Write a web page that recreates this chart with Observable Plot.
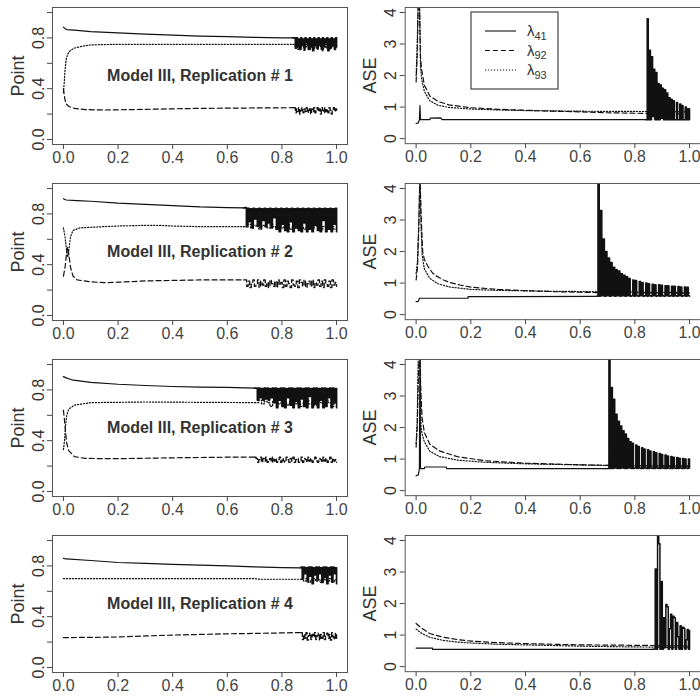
<!DOCTYPE html>
<html><head><meta charset="utf-8">
<script src="https://cdn.jsdelivr.net/npm/d3@7"></script>
<script src="https://cdn.jsdelivr.net/npm/@observablehq/plot@0.6"></script>
<style>
body{margin:0;background:#fff;}
#chart{position:relative;width:700px;height:698px;overflow:hidden;background:#fff;font-family:"Liberation Sans",Arial,sans-serif;}
.panel{position:absolute;}
</style></head><body><div id="chart"></div>
<script>
// ---------- axes ----------
const xTicks=[0,0.2,0.4,0.6,0.8,1.0];
const pointTicks=[0,0.2,0.4,0.6,0.8,1.0];
const pointTickLabels=[0,0.4,0.8];
const aseTicks=[0,1,2,3,4];
const replications=[1,2,3,4];
const legendNames=[["λ","41"],["λ","92"],["λ","93"]];

// ---------- Replication 1 ----------
const r1Range=[0.845,1.0];
const r1PSolid=[[0,0.885],[0.005,0.875],[0.012,0.866],[0.05,0.86],[0.1,0.85],[0.2,0.84],[0.3,0.83],[0.4,0.823],[0.5,0.815],[0.6,0.81],[0.7,0.805],[0.8,0.80],[0.84,0.80]];
const r1PSolidN=[0.80,0.72,0.80,0.74,0.79,0.71,0.80,0.75,0.79,0.72,0.80,0.76,0.79,0.71,0.80,0.73,0.79,0.70,0.80,0.74,0.79,0.72,0.80,0.75,0.79,0.71,0.80,0.73,0.79,0.76,0.80,0.70,0.79,0.72,0.80,0.74,0.79,0.71,0.80,0.73];
const r1PDotted=[[0,0.37],[0.003,0.45],[0.006,0.55],[0.01,0.63],[0.015,0.67],[0.025,0.70],[0.04,0.72],[0.07,0.735],[0.1,0.745],[0.2,0.75],[0.5,0.75],[0.84,0.75]];
const r1PDottedN=[0.75,0.73,0.75,0.71,0.74,0.75,0.72,0.75,0.74,0.70,0.75,0.73,0.75,0.74,0.71,0.75,0.73,0.75,0.72,0.74,0.75,0.71,0.74,0.75,0.73,0.75,0.70,0.74,0.75,0.72,0.75,0.74,0.71,0.75,0.73,0.74,0.75,0.72,0.74,0.73];
const r1PDashed=[[0,0.40],[0.003,0.35],[0.006,0.31],[0.01,0.28],[0.02,0.26],[0.04,0.245],[0.08,0.235],[0.15,0.232],[0.3,0.237],[0.5,0.245],[0.7,0.248],[0.84,0.25]];
const r1PDashedN=[0.25,0.21,0.24,0.22,0.25,0.20,0.23,0.25,0.21,0.24,0.22,0.25,0.21,0.23,0.25,0.20,0.24,0.22,0.25,0.21,0.23,0.25,0.22,0.24,0.20,0.25,0.23,0.21,0.25,0.22,0.24,0.21,0.25,0.23,0.20,0.24,0.25,0.22,0.24,0.23];
const r1ASolid=[[0,0.48],[0.008,0.5],[0.012,0.6],[0.014,1.05],[0.016,0.6],[0.05,0.6],[0.052,0.65],[0.09,0.66],[0.095,0.6],[0.84,0.6]];
const r1ASolidN=[3.8,0.6,2.8,0.6,2.6,0.7,2.2,0.6,2.1,0.6,1.75,0.6,1.7,0.65,1.6,0.6,1.55,0.6,1.45,0.6,1.3,0.6,1.25,0.6,1.2,0.6,0.6,1.15,0.6,0.6,1.1,0.6,1.05,0.6,0.6,1.0,0.6,0.95,0.6,0.95];
const r1ADashed=[[0,1.8],[0.004,2.6],[0.008,4.5],[0.012,4.5],[0.016,2.6],[0.02,2.2],[0.03,1.7],[0.05,1.35],[0.08,1.18],[0.12,1.07],[0.2,0.98],[0.3,0.93],[0.4,0.9],[0.5,0.87],[0.6,0.85],[0.7,0.82],[0.84,0.8],[1.0,0.78]];
const r1ADotted=[[0,2.0],[0.004,3.0],[0.008,4.5],[0.012,4.5],[0.016,2.3],[0.02,1.9],[0.03,1.5],[0.05,1.2],[0.08,1.06],[0.12,0.99],[0.2,0.94],[0.3,0.91],[0.4,0.89],[0.6,0.87],[0.84,0.86],[1.0,0.85]];

// ---------- Replication 2 ----------
const r2Range=[0.665,1.0];
const r2PSolid=[[0,0.92],[0.01,0.91],[0.05,0.905],[0.1,0.90],[0.2,0.885],[0.3,0.875],[0.4,0.865],[0.5,0.855],[0.6,0.85],[0.66,0.848]];
const r2PSolidN=[0.85,0.70,0.845,0.74,0.84,0.69,0.845,0.76,0.84,0.71,0.845,0.69,0.84,0.75,0.845,0.70,0.84,0.73,0.845,0.69,0.84,0.77,0.845,0.68,0.84,0.66,0.845,0.72,0.84,0.67,0.845,0.66,0.84,0.74,0.845,0.66,0.84,0.69,0.845,0.67,0.84,0.66,0.845,0.73,0.84,0.66,0.845,0.68,0.84,0.66,0.845,0.71,0.84,0.67,0.845,0.66,0.84,0.75,0.845,0.66,0.84,0.68,0.845,0.66,0.84,0.72,0.845,0.66];
const r2PDotted=[[0,0.69],[0.006,0.62],[0.012,0.50],[0.016,0.46],[0.02,0.52],[0.026,0.62],[0.035,0.67],[0.06,0.69],[0.1,0.695],[0.2,0.705],[0.3,0.71],[0.35,0.71],[0.4,0.705],[0.5,0.70],[0.66,0.70]];
const r2PDottedN=[0.70,0.72,0.69,0.71,0.70,0.68,0.71,0.70,0.69,0.72,0.70,0.68,0.71,0.69,0.70,0.72,0.68,0.70,0.71,0.69,0.70,0.68,0.72,0.70,0.69,0.71,0.70,0.68,0.70,0.71,0.69,0.70,0.68,0.70];
const r2PDashed=[[0,0.31],[0.006,0.38],[0.012,0.50],[0.016,0.54],[0.02,0.48],[0.026,0.38],[0.035,0.31],[0.05,0.28],[0.1,0.265],[0.15,0.258],[0.2,0.262],[0.3,0.272],[0.5,0.28],[0.66,0.28]];
const r2PDashedN=[0.28,0.23,0.27,0.22,0.26,0.28,0.23,0.25,0.28,0.22,0.27,0.24,0.28,0.23,0.26,0.22,0.28,0.25,0.23,0.27,0.22,0.28,0.24,0.26,0.22,0.28,0.23,0.27,0.25,0.22,0.28,0.24,0.23,0.27,0.22,0.28,0.26,0.23,0.28,0.22,0.25,0.27,0.23,0.28,0.22,0.26,0.24,0.28,0.23,0.27,0.22,0.28,0.25,0.23,0.27,0.22,0.28,0.24,0.26,0.23];
const r2ASolid=[[0,0.41],[0.008,0.42],[0.012,0.52],[0.19,0.52],[0.19,0.57],[0.66,0.58]];
const r2ASolidN=[4.5,0.58,3.3,0.6,2.4,0.58,2.0,0.6,1.8,0.58,1.65,0.6,1.5,0.58,1.42,0.6,1.38,0.58,1.3,0.6,1.25,0.58,1.2,0.6,1.15,0.58,0.6,1.1,0.58,1.08,0.6,0.58,1.05,0.6,1.02,0.58,0.6,1.0,0.58,0.98,0.6,0.58,0.96,0.6,0.95,0.58,0.6,0.95,0.58,0.93,0.6,0.58,0.92,0.6,0.92,0.58,0.6,0.9,0.58,0.9,0.6,0.58,0.89,0.6,0.88,0.58,0.6,0.88,0.58,0.87,0.6,0.58];
const r2ADashed=[[0,1.1],[0.005,1.5],[0.01,2.8],[0.014,4.5],[0.018,3.2],[0.024,2.0],[0.03,1.75],[0.042,1.55],[0.06,1.32],[0.073,1.23],[0.1,1.1],[0.12,1.03],[0.16,0.94],[0.2,0.87],[0.3,0.8],[0.4,0.76],[0.5,0.73],[0.6,0.71],[0.66,0.70],[1.0,0.68]];
const r2ADotted=[[0,1.3],[0.005,1.7],[0.01,3.0],[0.014,4.5],[0.018,2.8],[0.022,1.9],[0.03,1.45],[0.05,1.15],[0.08,0.98],[0.12,0.88],[0.2,0.8],[0.3,0.77],[0.5,0.74],[0.66,0.73],[1.0,0.7]];

// ---------- Replication 3 ----------
const r3Range=[0.705,1.0];
const r3PSolid=[[0,0.905],[0.01,0.895],[0.03,0.88],[0.1,0.86],[0.2,0.845],[0.3,0.835],[0.4,0.827],[0.5,0.823],[0.6,0.82],[0.7,0.815]];
const r3PSolidN=[0.815,0.72,0.815,0.74,0.81,0.72,0.815,0.73,0.815,0.72,0.81,0.74,0.815,0.70,0.815,0.66,0.81,0.72,0.815,0.67,0.815,0.66,0.81,0.74,0.815,0.68,0.815,0.66,0.81,0.71,0.815,0.66,0.815,0.73,0.81,0.67,0.815,0.66,0.815,0.75,0.81,0.66,0.815,0.69,0.815,0.66,0.81,0.72,0.815,0.66,0.815,0.67,0.81,0.74,0.815,0.66,0.815,0.70,0.81,0.66];
const r3PDotted=[[0,0.33],[0.004,0.40],[0.008,0.52],[0.012,0.60],[0.02,0.65],[0.04,0.68],[0.1,0.70],[0.3,0.705],[0.7,0.70]];
const r3PDottedN=[0.70,0.72,0.69,0.71,0.70,0.67,0.71,0.70,0.69,0.72,0.70,0.68,0.71,0.70,0.69,0.71,0.67,0.70,0.72,0.69,0.70,0.68,0.71,0.70,0.69,0.72,0.70,0.67,0.70,0.71];
const r3PDashed=[[0,0.64],[0.004,0.56],[0.008,0.46],[0.012,0.38],[0.02,0.32],[0.04,0.275],[0.08,0.26],[0.2,0.258],[0.4,0.265],[0.6,0.27],[0.7,0.27]];
const r3PDashedN=[0.26,0.23,0.25,0.27,0.23,0.26,0.24,0.27,0.23,0.25,0.26,0.23,0.27,0.24,0.26,0.23,0.25,0.27,0.23,0.26,0.24,0.23,0.27,0.25,0.23,0.26,0.24,0.27,0.23,0.25,0.26,0.23,0.24,0.27,0.23,0.26,0.25,0.23,0.27,0.24,0.26,0.23,0.25,0.27,0.24,0.23,0.26,0.25,0.23,0.27,0.24,0.26,0.23,0.25,0.27,0.23,0.26,0.24,0.25,0.23];
const r3ASolid=[[0,0.47],[0.008,0.5],[0.012,0.7],[0.014,4.5],[0.016,0.7],[0.03,0.7],[0.032,0.75],[0.11,0.75],[0.112,0.7],[0.7,0.7]];
const r3ASolidN=[4.5,0.7,3.27,0.7,2.9,0.72,2.42,0.7,2.2,0.7,2.05,0.72,1.9,0.7,1.8,0.7,1.65,0.72,1.55,0.7,1.5,0.7,0.72,1.45,0.7,1.4,0.72,0.7,1.36,0.7,1.32,0.72,0.7,1.3,0.7,1.26,0.72,0.7,1.23,0.7,1.2,0.72,0.7,1.18,0.7,1.15,0.72,0.7,1.13,0.7,1.1,0.72,0.7,1.08,0.7,1.06,0.72,0.7,1.05,0.7,1.03,0.72,0.7,1.02,0.7,1.0,0.72,0.7,1.0,0.72];
const r3ADashed=[[0,1.38],[0.004,2.0],[0.008,3.5],[0.012,4.5],[0.018,3.0],[0.022,2.3],[0.03,1.85],[0.05,1.47],[0.085,1.26],[0.15,1.08],[0.25,0.95],[0.4,0.87],[0.6,0.82],[0.7,0.8],[1.0,0.78]];
const r3ADotted=[[0,1.5],[0.004,2.2],[0.008,4.5],[0.014,4.5],[0.018,2.0],[0.022,1.8],[0.03,1.55],[0.05,1.25],[0.085,1.08],[0.15,0.97],[0.25,0.9],[0.4,0.85],[0.7,0.8],[1.0,0.78]];

// ---------- Replication 4 ----------
const r4Range=[0.87,1.0];
const r4PSolid=[[0,0.86],[0.01,0.855],[0.1,0.843],[0.2,0.827],[0.3,0.82],[0.4,0.813],[0.5,0.806],[0.6,0.80],[0.7,0.793],[0.8,0.787],[0.87,0.785]];
const r4PSolidN=[0.79,0.70,0.79,0.74,0.785,0.68,0.79,0.72,0.79,0.66,0.785,0.73,0.79,0.69,0.79,0.74,0.785,0.67,0.79,0.71,0.79,0.66,0.785,0.73,0.79,0.68,0.79,0.74,0.785,0.66];
const r4PDotted=[[0,0.70],[0.7,0.70],[0.72,0.695],[0.87,0.695]];
const r4PDottedN=[0.695,0.68,0.70,0.67,0.69,0.70,0.68,0.695,0.67,0.70,0.69,0.68,0.70,0.67,0.69,0.68];
const r4PDashed=[[0,0.235],[0.1,0.237],[0.2,0.24],[0.3,0.248],[0.4,0.255],[0.5,0.26],[0.6,0.265],[0.7,0.268],[0.8,0.272],[0.87,0.275]];
const r4PDashedN=[0.275,0.22,0.26,0.23,0.275,0.215,0.25,0.27,0.22,0.26,0.24,0.275,0.22,0.25,0.27,0.215,0.26,0.23,0.275,0.22,0.25,0.27,0.23,0.26,0.215,0.275,0.24,0.22,0.27,0.23];
const r4ASolid=[[0,0.59],[0.06,0.59],[0.06,0.55],[0.865,0.55]];
const r4ASolidN=[0.55,3.1,0.55,4.5,3.9,0.55,2.7,0.55,1.55,0.6,1.97,1.9,0.55,1.2,1.66,0.55,1.6,1.55,0.55,1.4,0.95,0.55,1.3,0.55,1.25,1.22,0.55,0.85,1.18,0.55,1.15];
const r4ADashed=[[0,1.37],[0.02,1.22],[0.05,1.05],[0.1,0.93],[0.15,0.86],[0.2,0.81],[0.3,0.76],[0.4,0.73],[0.5,0.71],[0.6,0.69],[0.75,0.68],[0.87,0.67],[1.0,0.65]];
const r4ADotted=[[0,1.19],[0.02,1.06],[0.05,0.93],[0.1,0.83],[0.15,0.78],[0.2,0.75],[0.3,0.71],[0.4,0.69],[0.5,0.67],[0.6,0.65],[0.75,0.63],[0.87,0.62],[1.0,0.6]];

// ---------- assembly ----------
function noisePoints(smooth, noise, range){
  const n=noise.length;
  return [smooth[smooth.length-1]].concat(noise.map((y,i)=>[range[0]+(range[1]-range[0])*i/(n-1), y]));
}
const rows=[
  {range:r1Range,P:[[r1PSolid,r1PSolidN],[r1PDashed,r1PDashedN],[r1PDotted,r1PDottedN]],A:[[r1ASolid,r1ASolidN],[r1ADashed],[r1ADotted]]},
  {range:r2Range,P:[[r2PSolid,r2PSolidN],[r2PDashed,r2PDashedN],[r2PDotted,r2PDottedN]],A:[[r2ASolid,r2ASolidN],[r2ADashed],[r2ADotted]]},
  {range:r3Range,P:[[r3PSolid,r3PSolidN],[r3PDashed,r3PDashedN],[r3PDotted,r3PDottedN]],A:[[r3ASolid,r3ASolidN],[r3ADashed],[r3ADotted]]},
  {range:r4Range,P:[[r4PSolid,r4PSolidN],[r4PDashed,r4PDashedN],[r4PDotted,r4PDottedN]],A:[[r4ASolid,r4ASolidN],[r4ADashed],[r4ADotted]]}
];
const DASH=[null,"5,3","1.2,1.8"];
const LINE="#111";
const TEXT="#333";
const ROW_H=176;
const chart=document.getElementById("chart");

function makePanel({top,left,width,mL,mR,yDomain,yTicks,yLabels,yFmt,yTitle,series,range,annotation,noiseW}){
  const marks=[];
  series.forEach((s,k)=>{
    const opts={x:d=>d[0],y:d=>d[1],stroke:LINE,strokeWidth:1.2,strokeDasharray:DASH[k],clip:true};
    marks.push(Plot.line(s[0],opts));
    if(s[1]) marks.push(Plot.line(noisePoints(s[0],s[1],range),{...opts,curve:"step-after",strokeWidth:noiseW[k]}));
  });
  marks.push(Plot.frame({stroke:"#555"}));
  marks.push(Plot.axisX({ticks:xTicks,tickFormat:d3.format(".1f"),tickSize:5,tickPadding:2,fontSize:16,label:null}));
  marks.push(Plot.axisY({ticks:yTicks,tickSize:5,tickFormat:()=>"",label:null}));
  marks.push(Plot.text(yLabels,{y:d=>d,text:yFmt,frameAnchor:"left",dx:-9,rotate:-90,textAnchor:"middle",lineAnchor:"bottom",fontSize:16,fill:TEXT}));
  marks.push(Plot.text([yTitle],{text:d=>d,frameAnchor:"left",dx:-29,rotate:-90,textAnchor:"middle",lineAnchor:"bottom",fontSize:18,fill:TEXT}));
  if(annotation) marks.push(Plot.text([annotation],{text:d=>d,frameAnchor:"middle",fontSize:16,fontWeight:"bold",fill:TEXT}));
  const svg=Plot.plot({
    width,height:ROW_H,marginLeft:mL,marginRight:mR,marginTop:7,marginBottom:32,
    style:{fontFamily:'"Liberation Sans",Arial,sans-serif',color:"#444",background:"transparent",overflow:"visible"},
    x:{domain:[-0.04,1.04],axis:null},
    y:{domain:yDomain,axis:null},
    marks
  });
  const div=document.createElement("div");
  div.className="panel";
  div.style.left=left+"px";div.style.top=top+"px";
  div.appendChild(svg);
  chart.appendChild(div);
}

rows.forEach((r,i)=>{
  makePanel({top:i*ROW_H,left:0,width:350,mL:52,mR:3,yDomain:[-0.04,1.04],yTicks:pointTicks,yLabels:pointTickLabels,yFmt:d3.format(".1f"),yTitle:"Point",series:r.P,range:r.range,annotation:`Model III, Replication # ${replications[i]}`,noiseW:[1.7,1.3,1.3]});
  makePanel({top:i*ROW_H,left:350,width:352,mL:55,mR:0,yDomain:[-0.16,4.16],yTicks:aseTicks,yLabels:aseTicks,yFmt:d=>String(d),yTitle:"ASE",series:r.A,range:r.range,annotation:null,noiseW:[1.5,1.2,1.2]});
});

// legend (top-right panel)
const lg=d3.select(chart).append("svg").attr("width",700).attr("height",698)
  .style("position","absolute").style("left","0px").style("top","0px")
  .style("font-family",'"Liberation Sans",Arial,sans-serif');
lg.append("rect").attr("x",471).attr("y",12).attr("width",87).attr("height",77).attr("fill","#fff").attr("stroke","#444").attr("stroke-width",1.2);
legendNames.forEach((nm,k)=>{
  const y=31+k*19.5;
  lg.append("line").attr("x1",485).attr("x2",516).attr("y1",y).attr("y2",y).attr("stroke",LINE).attr("stroke-width",1.1).attr("stroke-dasharray",DASH[k]);
  const t=lg.append("text").attr("x",527).attr("y",y+5).attr("fill",TEXT).style("font-size","15px");
  t.append("tspan").text(nm[0]);
  t.append("tspan").attr("dy",3.5).style("font-size","11px").text(nm[1]);
});
</script></body></html>
